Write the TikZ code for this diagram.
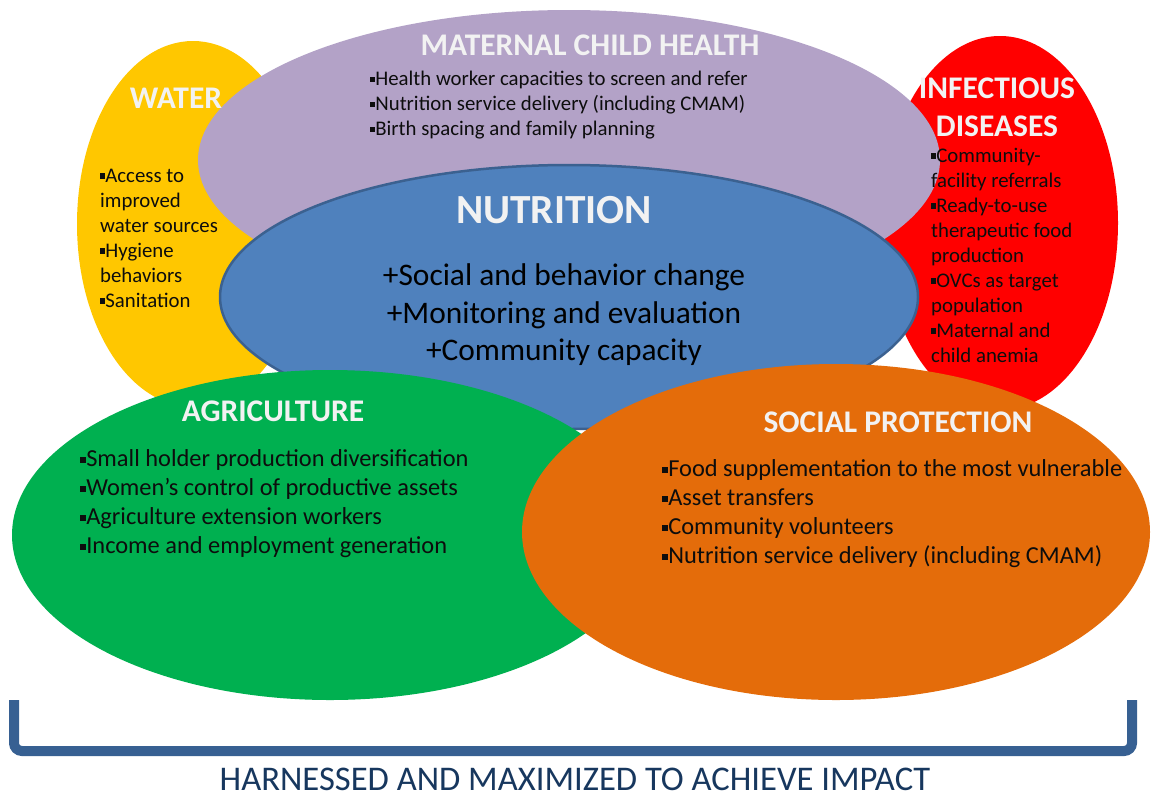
\documentclass[tikz,border=0pt]{standalone}
\usepackage{fontspec}
\setmainfont{Carlito}
\usepackage{xcolor}
\usepackage{tikz}
\usetikzlibrary{positioning,calc}

\definecolor{waterc}{HTML}{FFC700}
\definecolor{mchc}{HTML}{B3A2C7}
\definecolor{infc}{HTML}{FF0000}
\definecolor{nutc}{HTML}{4F81BD}
\definecolor{nutedge}{HTML}{3B6190}
\definecolor{agric}{HTML}{00B050}
\definecolor{socc}{HTML}{E46C0A}
\definecolor{bracec}{HTML}{376092}
\definecolor{impactc}{HTML}{17375E}
\definecolor{headc}{HTML}{F2F2F2}

\newcommand{\sq}{\raisebox{0.17em}{\rule{0.25em}{0.25em}}}

\tikzset{
  head/.style={text=headc, font=\bfseries\fontsize{31.5}{38}\selectfont, inner sep=0pt},
  items/.style={text=black!95, align=left, anchor=west, inner sep=0pt,
    font=\fontsize{20.8}{25}\selectfont},
  bigitems/.style={items, font=\fontsize{24.4}{29}\selectfont},
}

\begin{document}
\begin{tikzpicture}[x=1pt,y=-1pt]
    \useasboundingbox (0,0) rectangle (1151,796);

    % the circles of sectors
    \fill[waterc] (193,224) ellipse [x radius=116, y radius=183];
    \fill[infc] (1000,223) ellipse [x radius=118, y radius=187];
    \fill[mchc] (569,160) ellipse [x radius=371, y radius=150];
    \fill[nutc, draw=nutedge, line width=2.5pt] (569,297) ellipse [x radius=349, y radius=132];
    \fill[agric] (330,535) ellipse [x radius=318, y radius=165];
    \fill[socc] (836,532) ellipse [x radius=314, y radius=168];

    % water
    \node[head] (water) at (176,98) {WATER};
    \node[items] (wateritems) at (100,238) {\sq Access to\\improved\\water sources\\\sq Hygiene\\behaviors\\\sq Sanitation};

    % maternal child health
    \node[head] (mch) at (590,45) {MATERNAL CHILD HEALTH};
    \node[items] (mchitems) at (370,105) {\sq Health worker capacities to screen and refer\\\sq Nutrition service delivery (including CMAM)\\\sq Birth spacing and family planning};

    % infectious diseases
    \node[head, align=center] (inf) at (997,107) {INFECTIOUS\\DISEASES};
    \node[items] (infitems) at (931,255) {\sq Community-\\facility referrals\\\sq Ready-to-use\\therapeutic food\\production\\\sq OVCs as target\\population\\\sq Maternal and\\child anemia};

    % nutrition
    \node[head, font=\bfseries\fontsize{41.4}{48}\selectfont] (nut) at (554,210) {NUTRITION};
    \node[align=center, inner sep=0pt, font=\fontsize{31.4}{37.5}\selectfont] (nutitems) at (564,315)
        {+Social and behavior change\\+Monitoring and evaluation\\+Community capacity};

    % agriculture
    \node[head] (agri) at (273,411) {AGRICULTURE};
    \node[bigitems] (agriitems) at (80,504) {\sq Small holder production diversification\\\sq Women’s control of productive assets\\\sq Agriculture extension workers\\\sq Income and employment generation};

    % social protection
    \node[head] (soc) at (898,422) {SOCIAL PROTECTION};
    \node[bigitems] (socitems) at (662,514) {\sq Food supplementation to the most vulnerable\\\sq Asset transfers\\\sq Community volunteers\\\sq Nutrition service delivery (including CMAM)};

    % bracket and impact line
    \coordinate (braceL) at (14,700);
    \coordinate (braceR) at (1132,700);
    \draw[bracec, line width=10pt, rounded corners=8pt] (braceL) -- (14,751) -- (1132,751) -- (braceR);
    \node[text=impactc, inner sep=0pt, font=\fontsize{34.6}{40}\selectfont] (impact) at (575,779)
        {HARNESSED AND MAXIMIZED TO ACHIEVE IMPACT};
\end{tikzpicture}
\end{document}
